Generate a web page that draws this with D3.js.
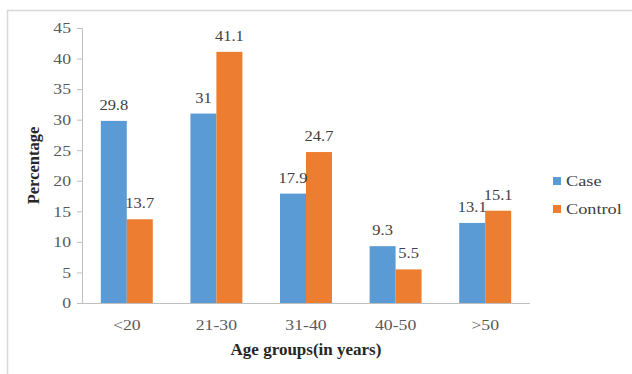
<!DOCTYPE html>
<html>
<head>
<meta charset="utf-8">
<script src="https://cdn.jsdelivr.net/npm/d3@7"></script>
<style>
  body { margin: 0; background: #fff; }
  svg { display: block; }
</style>
</head>
<body>
<svg id="chart" width="632" height="374"></svg>
<script>
// Age distribution of cases and controls (percent)
const categories = ["<20", "21-30", "31-40", "40-50", ">50"];
const seriesNames = ["Case", "Control"];
const caseValues = [29.8, 31, 17.9, 9.3, 13.1];
const controlValues = [13.7, 41.1, 24.7, 5.5, 15.1];
const yTicks = [0, 5, 10, 15, 20, 25, 30, 35, 40, 45];
const colors = ["#5B9BD5", "#ED7D31"];

const FONT = "'Liberation Serif', 'Times New Roman', serif";

// widen text horizontally around its own anchor point
function widen(sel, sx) {
  sel.each(function () {
    const t = d3.select(this);
    const x = +t.attr("x") || 0;
    t.attr("x", x / sx).attr("transform", `scale(${sx},1)`);
  });
}

const svg = d3.select("#chart").attr("font-family", FONT);
const left = 82, innerRight = 530;

// outer chart frame
svg.append("rect")
  .attr("x", 7.5).attr("y", 10.5)
  .attr("width", 640).attr("height", 400)
  .attr("fill", "none").attr("stroke", "#d9d9d9").attr("stroke-width", 1.5);

const x = d3.scaleBand().domain(categories)
  .range([left, innerRight]).paddingInner(0.42).paddingOuter(0.21);
const xs = d3.scaleBand().domain(seriesNames).range([0, x.bandwidth()]);
const y = d3.scaleLinear().domain([0, 45]).range([303, 28]);

// y axis
const yAxis = svg.append("g")
  .attr("transform", `translate(${left},0)`)
  .call(d3.axisLeft(y).tickValues(yTicks).tickSize(5).tickPadding(6).tickFormat(d3.format("d")))
  .attr("font-family", FONT).attr("font-size", 15);
yAxis.selectAll("path, line").attr("stroke", "#bfbfbf");
yAxis.selectAll("text").attr("fill", "#595959").call(widen, 1.18);

// bars
const rows = categories.map((c, i) => ({ cat: c, vals: [caseValues[i], controlValues[i]] }));
const groups = svg.append("g").selectAll("g").data(rows).join("g")
  .attr("transform", d => `translate(${x(d.cat)},0)`);

groups.selectAll("rect").data(d => d.vals.map((v, j) => ({ v, s: seriesNames[j], j })))
  .join("rect")
  .attr("x", d => xs(d.s)).attr("width", xs.bandwidth())
  .attr("y", d => y(d.v)).attr("height", d => y(0) - y(d.v))
  .attr("fill", d => colors[d.j]);

groups.selectAll("text.val").data(d => d.vals.map((v, j) => ({ v, s: seriesNames[j], j })))
  .join("text").attr("class", "val")
  .attr("x", d => xs(d.s) + xs.bandwidth() / 2)
  .attr("y", d => y(d.v) - 11)
  .attr("text-anchor", "middle")
  .attr("font-size", 15)
  .attr("fill", "#404040")
  .text(d => d.v)
  .call(widen, 1.1);

// x axis
const xAxis = svg.append("g")
  .attr("transform", `translate(0,${y(0)})`)
  .call(d3.axisBottom(x).tickSize(0).tickPadding(16))
  .attr("font-family", FONT).attr("font-size", 15);
xAxis.select("path").attr("stroke", "#bfbfbf").attr("d", `M${left},0.5H${innerRight}`);
xAxis.selectAll("text").attr("fill", "#595959").call(widen, 1.18);

// axis titles
svg.append("text")
  .attr("x", (left + innerRight) / 2).attr("y", 355)
  .attr("text-anchor", "middle").attr("font-weight", "bold")
  .attr("font-size", 17).attr("fill", "#262626")
  .text("Age groups(in years)");

svg.append("text")
  .attr("transform", `translate(39,${(28 + 303) / 2}) rotate(-90)`)
  .attr("text-anchor", "middle").attr("font-weight", "bold")
  .attr("font-size", 16.5).attr("fill", "#262626")
  .text("Percentage");

// legend
const legend = svg.append("g").selectAll("g").data(seriesNames).join("g")
  .attr("transform", (d, i) => `translate(553,${180 + i * 28})`);
legend.append("rect").attr("x", 0).attr("y", -3).attr("width", 8).attr("height", 8)
  .attr("fill", (d, i) => colors[i]);
legend.append("text").attr("x", 13).attr("y", 6)
  .attr("font-size", 15.5).attr("fill", "#404040")
  .text(d => d)
  .call(widen, 1.18);
</script>
</body>
</html>
